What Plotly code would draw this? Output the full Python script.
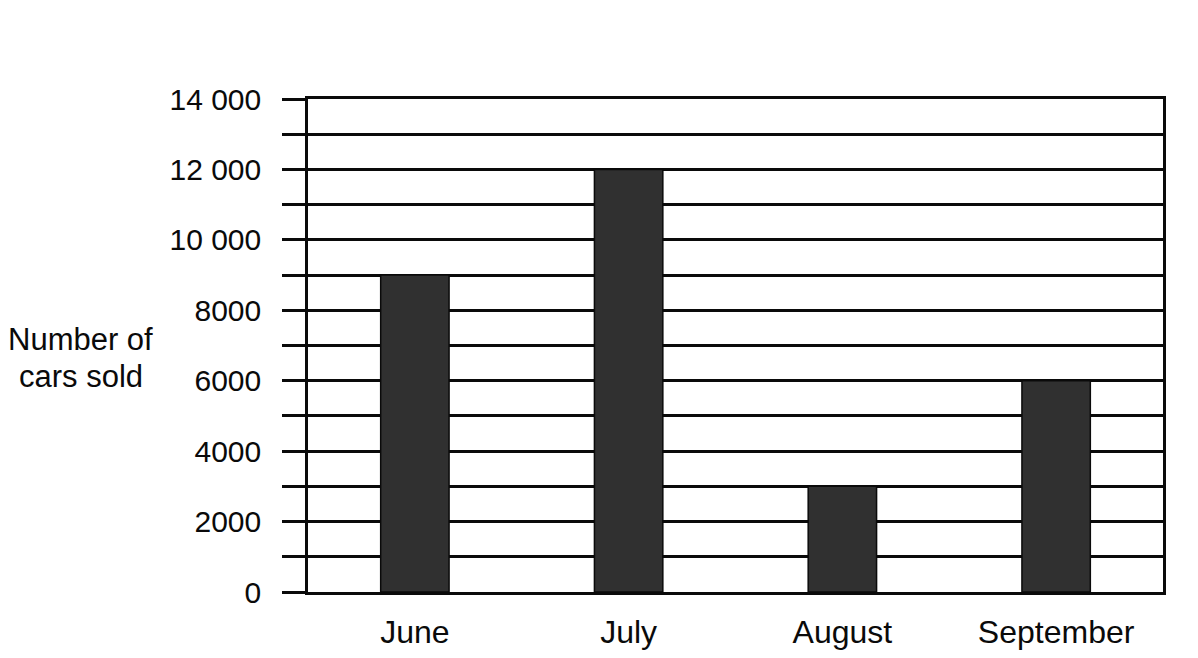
import plotly.graph_objects as go

months = ["June", "July", "August", "September"]
cars_sold = [9000, 12000, 3000, 6000]
tick_values = list(range(0, 15000, 1000))
tick_labels = ["0", "", "2000", "", "4000", "", "6000", "", "8000", "", "10 000", "", "12 000", "", "14 000"]

FAMILY = "Liberation Sans, Arial, sans-serif"
INK = "#0a0a0a"

fig = go.Figure()
fig.add_trace(go.Bar(
    x=months, y=cars_sold,
    width=0.32,
    marker=dict(color="#303030", line=dict(color=INK, width=1.5)),
))

fig.update_layout(
    width=1198, height=658,
    margin=dict(l=300, r=43, t=91, b=74),
    paper_bgcolor="white", plot_bgcolor="white",
    showlegend=False,
    font=dict(family=FAMILY, size=30, color=INK),
    xaxis=dict(
        showgrid=False, showline=True, linecolor=INK, linewidth=2.5, mirror=True,
        ticks="", ticklabelstandoff=10,
        tickfont=dict(family=FAMILY, size=32, color=INK),
    ),
    yaxis=dict(
        range=[0, 14000], tickvals=tick_values, ticktext=tick_labels,
        showgrid=True, gridcolor=INK, gridwidth=2.5,
        showline=True, linecolor=INK, linewidth=2.5, mirror=True,
        ticks="outside", ticklen=23, tickwidth=2.5, tickcolor=INK,
        ticklabelstandoff=15, zeroline=False,
        tickfont=dict(family=FAMILY, size=30, color=INK),
    ),
    annotations=[
        dict(text="Number of", xref="paper", yref="paper",
             x=-0.2655, y=0.512, xanchor="center", yanchor="middle",
             showarrow=False, font=dict(family=FAMILY, size=31, color=INK)),
        dict(text="cars sold", xref="paper", yref="paper",
             x=-0.2655, y=0.438, xanchor="center", yanchor="middle",
             showarrow=False, font=dict(family=FAMILY, size=31, color=INK)),
    ],
)

fig.write_html("out.html")
